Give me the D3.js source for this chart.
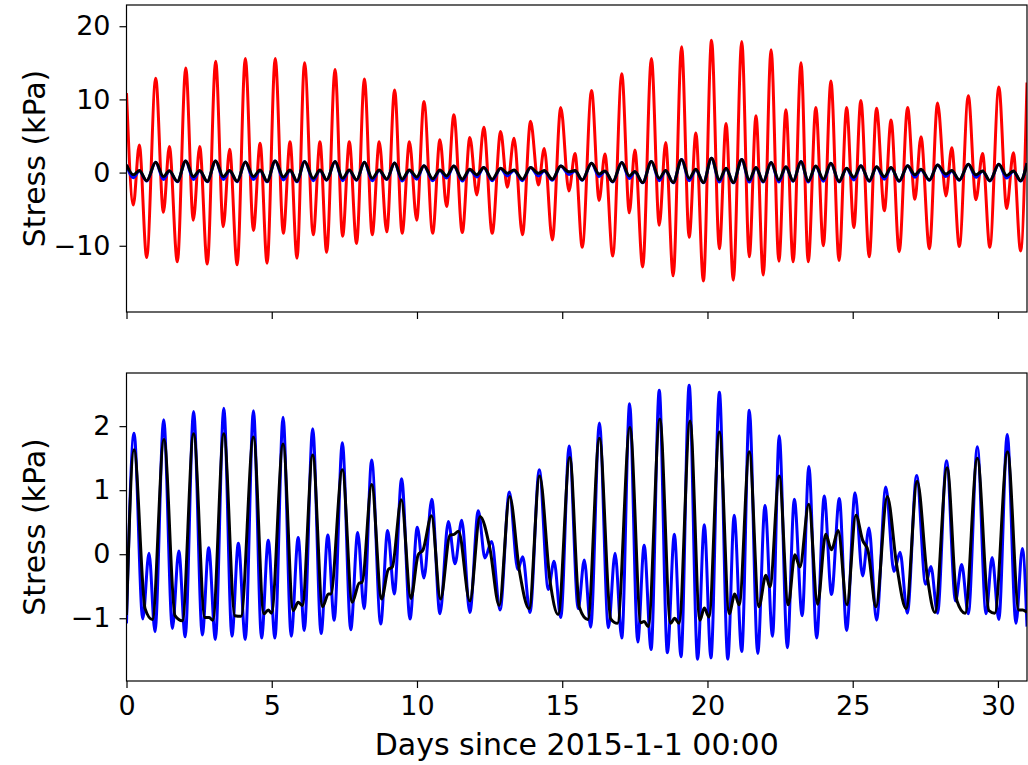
<!DOCTYPE html>
<html>
<head>
<meta charset="utf-8">
<script src="https://cdn.jsdelivr.net/npm/d3@7"></script>
<style>
  html, body { margin: 0; padding: 0; background: #fff; }
  svg { display: block; }
  text { font-family: "DejaVu Sans", sans-serif; fill: #000; }
</style>
</head>
<body>
<svg id="chart" width="1028" height="765"></svg>
<script>
// Surface stress (kPa) over the first month of 2015, given as the turning points of each series.

// Top panel: shared time base (days) for the three upper series
const topDays = [0, 0.235, 0.44, 0.695, 1.005, 1.27, 1.475, 1.75, 2.04, 2.30, 2.52, 2.78, 3.07, 3.33, 3.55, 3.81,
  4.09, 4.37, 4.60, 4.84, 5.12, 5.40, 5.63, 5.87, 6.13, 6.43, 6.66, 6.89, 7.18, 7.44, 7.67, 7.92,
  8.19, 8.46, 8.70, 8.96, 9.23, 9.49, 9.74, 9.99, 10.24, 10.54, 10.79, 11.02, 11.27, 11.56, 11.82, 12.06,
  12.30, 12.59, 12.88, 13.11, 13.34, 13.63, 13.91, 14.18, 14.38, 14.66, 14.95, 15.23, 15.44, 15.69, 16.01, 16.27,
  16.47, 16.74, 17.05, 17.31, 17.50, 17.77, 18.07, 18.34, 18.56, 18.82, 19.11, 19.37, 19.60, 19.86, 20.14, 20.41,
  20.64, 20.89, 21.18, 21.44, 21.67, 21.92, 22.19, 22.46, 22.70, 22.95, 23.22, 23.47, 23.73, 23.99, 24.25, 24.53,
  24.79, 25.04, 25.28, 25.57, 25.82, 26.09, 26.32, 26.60, 26.89, 27.14, 27.35, 27.64, 27.92, 28.21, 28.41, 28.67,
  28.98, 29.24, 29.47, 29.72, 30.03, 30.30, 30.53, 30.78, 31.0];
const redStress = [10.85, -4.42, 3.78, -11.6, 12.9, -5.43, 3.56, -12.2, 14.3, -6.5, 3.56, -12.5, 15.2, -7.4, 3.2, -12.6,
  15.6, -7.9, 4.0, -12.4, 15.6, -8.3, 4.2, -11.7, 15.0, -8.5, 4.2, -10.9, 14.1, -8.7, 4.2, -9.7,
  12.8, -8.5, 4.2, -8.1, 11.3, -8.3, 4.2, -6.5, 9.7, -8.3, 4.5, -4.65, 7.9, -8.2, 4.8, -3.05,
  6.2, -8.3, 5.6, -2.0, 4.7, -8.5, 7.0, -1.7, 3.3, -9.2, 8.9, -2.5, 2.6, -10.2, 11.2, -3.8,
  2.55, -11.4, 13.5, -5.5, 3.1, -12.9, 15.6, -7.2, 4.1, -14.1, 17.2, -8.85, 5.4, -14.8, 18.1, -10.4,
  6.7, -14.7, 17.9, -11.5, 7.75, -14.0, 16.8, -12.1, 8.6, -12.2, 15.0, -12.2, 8.9, -10.0, 12.5, -12.0,
  8.9, -7.5, 9.85, -11.5, 8.8, -5.2, 7.2, -10.8, 8.9, -3.65, 4.9, -10.4, 9.5, -3.2, 3.4, -10.1,
  10.5, -3.7, 2.6, -10.2, 11.7, -4.9, 2.7, -10.7, 12.3];
const topBlueStress = [1.05, -0.7, 0.2, -1.15, 1.4, -0.95, 0.2, -1.25, 1.6, -0.95, 0.2, -1.25, 1.6, -0.95, 0.2, -1.25,
  1.45, -0.95, 0.3, -1.25, 1.6, -1.0, 0.3, -1.25, 1.5, -1.1, 0.3, -1.05, 1.5, -1.1, 0.3, -1.05,
  1.4, -1.1, 0.3, -0.95, 1.3, -1.15, 0.3, -0.9, 0.95, -1.1, 0.3, -0.75, 0.9, -1.15, 0.4, -0.6,
  0.7, -1.1, 0.55, -0.45, 0.3, -1.1, 0.7, -0.45, 0.2, -1.05, 0.9, -0.25, 0.2, -1.05, 1.28, -0.55,
  0.18, -1.3, 1.37, -0.8, 0.1, -1.4, 1.5, -1.1, 0.25, -1.4, 1.8, -1.1, 0.4, -1.4, 1.95, -1.3,
  0.55, -1.4, 1.8, -1.3, 0.65, -1.3, 1.37, -1.3, 0.75, -1.2, 1.5, -1.3, 0.85, -1.2, 1.28, -1.3,
  0.55, -1.0, 0.95, -1.2, 0.75, -0.9, 0.65, -1.2, 0.95, -0.65, 0.4, -1.05, 1.05, -0.55, 0.2, -1.05,
  1.14, -0.65, 0.18, -1.15, 1.14, -0.75, 0.18, -1.15, 1.28];
const topBlackStress = [1.05, -0.3, 0.27, -1.1, 1.4, -0.55, 0.25, -1.2, 1.6, -0.55, 0.27, -1.2, 1.6, -0.55, 0.27, -1.2,
  1.45, -0.55, 0.36, -1.2, 1.6, -0.6, 0.36, -1.2, 1.5, -0.78, 0.36, -1.0, 1.5, -0.78, 0.36, -1.0,
  1.4, -0.78, 0.36, -0.9, 1.3, -0.9, 0.36, -0.6, 0.95, -0.85, 0.36, -0.45, 0.9, -0.9, 0.45, -0.3,
  0.7, -0.9, 0.6, -0.1, 0.36, -0.9, 0.7, -0.1, 0.27, -0.9, 0.9, 0.1, 0.27, -1.0, 1.28, -0.2,
  0.23, -1.23, 1.37, -0.45, 0.14, -1.37, 1.5, -0.78, 0.3, -1.37, 1.8, -0.78, 0.45, -1.37, 1.95, -1.0,
  0.6, -1.37, 1.8, -1.0, 0.7, -1.23, 1.37, -1.0, 0.8, -1.14, 1.5, -1.14, 0.9, -0.9, 1.28, -1.23,
  0.6, -0.64, 0.95, -1.14, 0.8, -0.55, 0.7, -1.14, 0.95, -0.3, 0.45, -1.0, 1.05, -0.2, 0.27, -1.0,
  1.14, -0.3, 0.23, -1.1, 1.14, -0.4, 0.23, -1.1, 1.28];

// Bottom panel: blue series
const blueDays = [0, 0.26, 0.56, 0.775, 0.98, 1.28, 1.58, 1.80, 2.02, 2.31, 2.61, 2.83, 3.06, 3.35, 3.63, 3.85,
  4.09, 4.37, 4.65, 4.88, 5.11, 5.39, 5.67, 5.91, 6.12, 6.41, 6.70, 6.93, 7.15, 7.43, 7.72, 7.96,
  8.18, 8.44, 8.75, 8.99, 9.22, 9.47, 9.76, 10.01, 10.24, 10.51, 10.79, 11.08, 11.31, 11.54, 11.82, 12.11,
  12.34, 12.57, 12.86, 13.18, 13.47, 13.64, 13.89, 14.21, 14.52, 14.72, 14.95, 15.24, 15.55, 15.76, 15.98, 16.28,
  16.59, 16.82, 17.05, 17.32, 17.60, 17.82, 18.06, 18.34, 18.62, 18.86, 19.09, 19.37, 19.66, 19.89, 20.12, 20.41,
  20.70, 20.92, 21.18, 21.44, 21.73, 21.98, 22.24, 22.47, 22.75, 22.99, 23.26, 23.49, 23.76, 24.02, 24.27, 24.54,
  24.79, 25.08, 25.34, 25.56, 25.82, 26.14, 26.42, 26.63, 26.88, 27.20, 27.51, 27.69, 27.92, 28.23, 28.54, 28.75,
  28.98, 29.29, 29.59, 29.80, 30.03, 30.32, 30.62, 30.84, 31.0];
const blueStress = [-1.08, 1.89, -1.01, 0.015, -1.21, 2.10, -1.16, 0.05, -1.29, 2.23, -1.26, 0.10, -1.33, 2.28, -1.28, 0.17,
  -1.33, 2.24, -1.31, 0.22, -1.31, 2.14, -1.28, 0.26, -1.19, 1.96, -1.24, 0.30, -1.03, 1.74, -1.18, 0.34,
  -0.85, 1.47, -1.09, 0.37, -0.62, 1.18, -1.01, 0.42, -0.37, 0.86, -0.93, 0.51, -0.15, 0.53, -0.91, 0.68,
  -0.06, 0.20, -0.87, 0.97, -0.24, -0.04, -0.91, 1.32, -0.55, -0.11, -0.99, 1.69, -0.85, -0.09, -1.14, 2.05,
  -1.15, 0.015, -1.31, 2.35, -1.37, 0.14, -1.49, 2.56, -1.54, 0.31, -1.60, 2.64, -1.64, 0.46, -1.62, 2.53,
  -1.64, 0.61, -1.52, 2.25, -1.55, 0.76, -1.28, 1.85, -1.46, 0.86, -0.96, 1.37, -1.31, 0.91, -0.63, 0.87,
  -1.19, 0.96, -0.34, 0.41, -1.03, 1.05, -0.27, 0.03, -0.92, 1.23, -0.47, -0.19, -0.92, 1.46, -0.73, -0.16,
  -0.93, 1.68, -0.93, -0.05, -1.02, 1.87, -1.08, 0.09, -1.13];

// Bottom panel: black series
const blackDays = [0, 0.26, 0.64, 0.89, 1.29, 1.67, 1.92, 2.31, 2.70, 2.85, 2.97, 3.35, 3.73, 3.94, 4.37, 4.73,
  4.88, 4.99, 5.39, 5.74, 5.91, 6.05, 6.41, 6.75, 6.95, 7.03, 7.43, 7.77, 8.01, 8.11, 8.44, 8.78,
  9.01, 9.15, 9.46, 9.79, 10.04, 10.21, 10.50, 10.81, 11.14, 11.28, 11.43, 11.82, 12.17, 12.51, 12.83, 13.19,
  13.53, 13.86, 14.22, 14.58, 14.86, 15.26, 15.59, 15.88, 16.28, 16.67, 16.90, 17.33, 17.71, 17.82, 17.96, 18.36,
  18.73, 18.87, 19.02, 19.40, 19.74, 19.89, 20.05, 20.41, 20.75, 20.94, 21.09, 21.44, 21.77, 22.01, 22.15, 22.47,
  22.78, 23.01, 23.18, 23.49, 23.79, 24.07, 24.27, 24.50, 24.80, 25.11, 25.34, 25.53, 25.80, 26.19, 26.51, 26.84,
  27.22, 27.57, 27.83, 28.25, 28.59, 28.87, 29.29, 29.69, 29.89, 30.33, 30.72, 30.85, 31.0];
const blackStress = [-0.95, 1.63, -0.85, -1.02, 1.79, -0.96, -1.04, 1.88, -0.99, -0.99, -1.03, 1.88, -0.96, -0.97, 1.83, -0.93,
  -0.87, -0.92, 1.72, -0.88, -0.75, -0.80, 1.55, -0.82, -0.62, -0.62, 1.32, -0.75, -0.45, -0.44, 1.09, -0.70,
  -0.24, -0.20, 0.85, -0.69, -0.01, 0.07, 0.60, -0.70, 0.30, 0.31, 0.36, -0.73, 0.59, 0.09, -0.80, 0.90,
  -0.27, -0.85, 1.22, -0.42, -0.94, 1.51, -0.83, -1.02, 1.81, -1.01, -1.08, 1.98, -1.07, -1.05, -1.13, 2.11,
  -1.08, -1.00, -1.08, 2.08, -1.03, -0.84, -0.98, 1.91, -0.93, -0.62, -0.79, 1.60, -0.82, -0.33, -0.51, 1.22,
  -0.79, -0.01, -0.20, 0.78, -0.78, 0.31, 0.07, 0.37, -0.79, 0.61, 0.22, 0.05, -0.82, 0.90, -0.16, -0.85,
  1.14, -0.36, -0.91, 1.35, -0.73, -0.92, 1.50, -0.88, -0.92, 1.60, -0.87, -0.87, -0.91];

const xTicks = [0, 5, 10, 15, 20, 25, 30];
const topYTicks = [-10, 0, 10, 20];
const bottomYTicks = [-1, 0, 1, 2];

const pairs = (xs, ys) => xs.map((d, i) => [d, ys[i]]);
const red = pairs(topDays, redStress);
const topBlue = pairs(topDays, topBlueStress);
const topBlack = pairs(topDays, topBlackStress);
const blue = pairs(blueDays, blueStress);
const black = pairs(blackDays, blackStress);

const svg = d3.select("#chart");
const left = 126.5, right = 1027;

const x = d3.scaleLinear().domain([0, 31]).range([left, right]);

const panels = [
  { top: 5, bottom: 312, domain: [-19.05, 22.9], ticks: topYTicks, labels: false,
    series: [[red, "#ff0000"], [topBlue, "#0000ff"], [topBlack, "#000000"]] },
  { top: 373, bottom: 681, domain: [-1.98, 2.83], ticks: bottomYTicks, labels: true,
    series: [[blue, "#0000ff"], [black, "#000000"]] }
];

const fmt = d => d < 0 ? "\u2212" + Math.abs(d) : String(d);

panels.forEach((p, k) => {
  const y = d3.scaleLinear().domain(p.domain).range([p.bottom, p.top]);
  const g = svg.append("g");

  g.append("clipPath").attr("id", "clip" + k)
    .append("rect").attr("x", left).attr("y", p.top)
    .attr("width", right - left).attr("height", p.bottom - p.top);

  const line = d3.line().x(d => x(d[0])).y(d => y(d[1])).curve(d3.curveMonotoneX);
  const plot = g.append("g").attr("clip-path", `url(#clip${k})`);
  p.series.forEach(([data, color]) => {
    plot.append("path").datum(data)
      .attr("d", line)
      .attr("fill", "none")
      .attr("stroke", color)
      .attr("stroke-width", 3)
      .attr("stroke-linejoin", "round");
  });

  // Frame
  g.append("rect").attr("x", left).attr("y", p.top)
    .attr("width", right - left).attr("height", p.bottom - p.top)
    .attr("fill", "none").attr("stroke", "#000").attr("stroke-width", 1.2);

  // Axes
  const xAxis = d3.axisBottom(x).tickValues(xTicks).tickSize(7).tickPadding(8)
    .tickFormat(p.labels ? fmt : () => "");
  const gx = g.append("g").attr("transform", `translate(0,${p.bottom})`).call(xAxis);
  const yAxis = d3.axisLeft(y).tickValues(p.ticks).tickSize(7).tickPadding(9).tickFormat(fmt);
  const gy = g.append("g").attr("transform", `translate(${left},0)`).call(yAxis);

  [gx, gy].forEach(a => {
    a.select(".domain").remove();
    a.selectAll(".tick line").attr("stroke", "#000").attr("stroke-width", 1.2);
    a.selectAll(".tick text").attr("font-family", "DejaVu Sans").attr("font-size", 27).attr("fill", "#000");
  });

  // Y axis title
  g.append("text")
    .attr("transform", `translate(45,${(p.top + p.bottom) / 2}) rotate(-90)`)
    .attr("text-anchor", "middle")
    .attr("font-size", 30)
    .text("Stress (kPa)");
});

svg.append("text")
  .attr("x", (left + right) / 2).attr("y", 755)
  .attr("text-anchor", "middle")
  .attr("font-size", 30)
  .text("Days since 2015-1-1 00:00");
</script>
</body>
</html>
